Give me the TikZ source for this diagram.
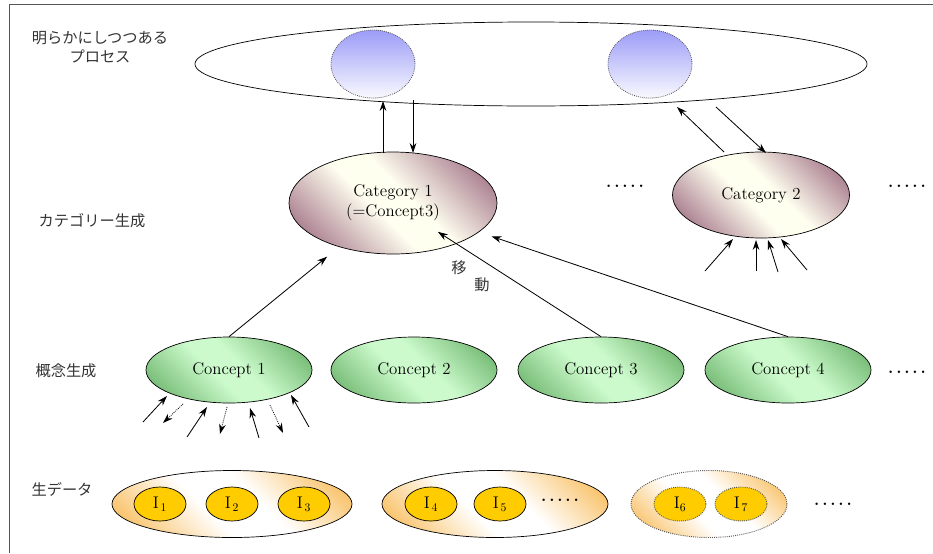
\documentclass[tikz,border=0pt]{standalone}
\usepackage{fontspec}
\newfontfamily\jp{Noto Sans CJK JP}
\usetikzlibrary{arrows.meta, shapes.geometric, calc}
\definecolor{cmauve}{HTML}{9C6A80}
\definecolor{ccream}{HTML}{FFFFF0}
\definecolor{cgreen}{HTML}{6CB46C}
\definecolor{clgreen}{HTML}{CCFACC}
\definecolor{corange}{HTML}{F8B850}
\definecolor{cgold}{HTML}{FFCC00}
\definecolor{cblue}{HTML}{9C9CF8}
\definecolor{cgrey}{HTML}{555555}
\pgfdeclarehorizontalshading{catshade}{100bp}{color(0bp)=(cmauve); color(19bp)=(cmauve); color(45bp)=(ccream); color(55bp)=(ccream); color(81bp)=(cmauve); color(100bp)=(cmauve)}
\pgfdeclarehorizontalshading{conshade}{100bp}{color(0bp)=(cgreen); color(19bp)=(cgreen); color(45bp)=(clgreen); color(55bp)=(clgreen); color(81bp)=(cgreen); color(100bp)=(cgreen)}
\pgfdeclarehorizontalshading{rawshade}{100bp}{color(0bp)=(corange); color(17bp)=(corange); color(43bp)=(white); color(57bp)=(white); color(83bp)=(corange); color(100bp)=(corange)}
\tikzset{
  every picture/.style={line width=0.6pt},
  proc/.style={ellipse, draw, fill=white, inner sep=0pt, minimum width=20.16cm, minimum height=2.52cm},
  blob/.style={ellipse, draw=cgrey, densely dotted, line width=0.7pt, top color=cblue, bottom color=cblue!6, inner sep=0pt, minimum width=2.52cm, minimum height=2.04cm},
  cat/.style={ellipse, draw, shading=catshade, shading angle=45, align=center, inner sep=0pt},
  concept/.style={ellipse, draw, shading=conshade, shading angle=45, inner sep=0pt, minimum width=4.98cm, minimum height=1.98cm},
  raw/.style={ellipse, draw, shading=rawshade, shading angle=45, inner sep=0pt, minimum width=#1, minimum height=2.01cm},
  item/.style={ellipse, draw, fill=cgold, inner sep=0pt, minimum width=1.56cm, minimum height=1.02cm},
  lbl/.style={font=\jp\fontsize{13}{16}\selectfont, text=black!80, align=center},
  arr/.style={-{Stealth[length=3mm, width=2mm]}, line width=0.7pt},
  darr/.style={arr, densely dotted},
}
\newcommand{\moredots}{\textbf{.\,.\,.\,.\,.}}

\begin{document}
\begin{tikzpicture}[x=0.03cm, y=-0.03cm,
    every node/.append style={font=\fontsize{14.4}{17}\selectfont}]
  \useasboundingbox (0,0) rectangle (933,553);
  \draw[cgrey, line width=0.8pt] (9,553) -- (9,4) -- (933,4);

  % layer labels
  \node[lbl] (lproc) at (100,47) {明らかにしつつある\\プロセス};
  \node[lbl] (lcat) at (92,221) {カテゴリー生成};
  \node[lbl] (lcon) at (66,371) {概念生成};
  \node[lbl] (lraw) at (62,489) {生データ};

  % process
  \node[proc] (proc) at (531,64) {};
  \node[blob] (b1) at (373,64) {};
  \node[blob] (b2) at (650,64) {};

  % categories
  \node[cat, minimum width=6.24cm, minimum height=3.06cm] (cat1) at (393,203) {Category 1\\(=Concept3)};
  \node[cat, minimum width=5.31cm, minimum height=2.58cm] (cat2) at (761,195) {Category 2};
  \node (dc1) at (625,186) {\moredots};
  \node (dc2) at (907,186) {\moredots};

  % concepts
  \node[concept] (c1) at (229,370) {Concept 1};
  \node[concept] (c2) at (414,370) {Concept 2};
  \node[concept] (c3) at (601,370) {Concept 3};
  \node[concept] (c4) at (788,370) {Concept 4};
  \node (dc3) at (907,372) {\moredots};

  % raw data
  \node[raw=7.2cm] (r1) at (232,504) {};
  \node[item] (i1) at (160,504) {I$_{\,1}$};
  \node[item] (i2) at (232,504) {I$_{\,2}$};
  \node[item] (i3) at (304,504) {I$_{\,3}$};
  \node[raw=6.78cm] (r2) at (495,504) {};
  \node[item] (i4) at (431,504) {I$_{\,4}$};
  \node[item] (i5) at (500,504) {I$_{\,5}$};
  \node (dr1) at (560,500) {\moredots};
  \node[raw=4.68cm, draw=cgrey, densely dotted, line width=0.8pt] (r3) at (709,504) {};
  \node[item, draw=cgrey, densely dotted, line width=0.8pt] (i6) at (680,504) {I$_6$};
  \node[item, draw=cgrey, densely dotted, line width=0.8pt] (i7) at (741,504) {I$_{\,7}$};
  \node (dr2) at (833,504) {\moredots};

  % process <-> category
  \draw[arr] ($(cat1)+(-10,-50)$) -- ($(cat1)+(-10,-102)$);
  \draw[arr] ($(cat1)+(20,-103)$) -- ($(cat1)+(20,-50)$);
  \draw[arr] ($(cat2)+(-37,-43)$) -- ($(cat2)+(-84,-88)$);
  \draw[arr] ($(cat2)+(-45,-88)$) -- ($(cat2)+(5,-42)$);

  % concept -> category
  \draw[arr, shorten >=2.55cm] (c1.north) -- (cat1.center);
  \draw[arr, shorten >=1.6cm] (c3.north) -- (cat1.center);
  \draw[arr, shorten >=3.12cm] (c4.north) -- (cat1.center);
  \node[lbl] (mv1) at (459,268) {移};
  \node[lbl] (mv2) at (482,285) {動};

  % inputs
  \foreach \a/\b/\c/\d/\s in {-86/52/-62/26/arr, -46/34/-66/53/darr, -42/67/-22/37/arr,
      -2/37/-9/64/darr, 30/68/21/38/arr, 41/35/54/63/darr, 80/57/62/25/arr}
    \draw[\s] ($(c1)+(\a,\b)$) -- ($(c1)+(\c,\d)$);
  \foreach \a/\b/\c/\d in {-56/76/-28/44, -5/76/-5/45, 17/77/7/45, 46/75/20/44}
    \draw[arr] ($(cat2)+(\a,\b)$) -- ($(cat2)+(\c,\d)$);
\end{tikzpicture}
\end{document}
